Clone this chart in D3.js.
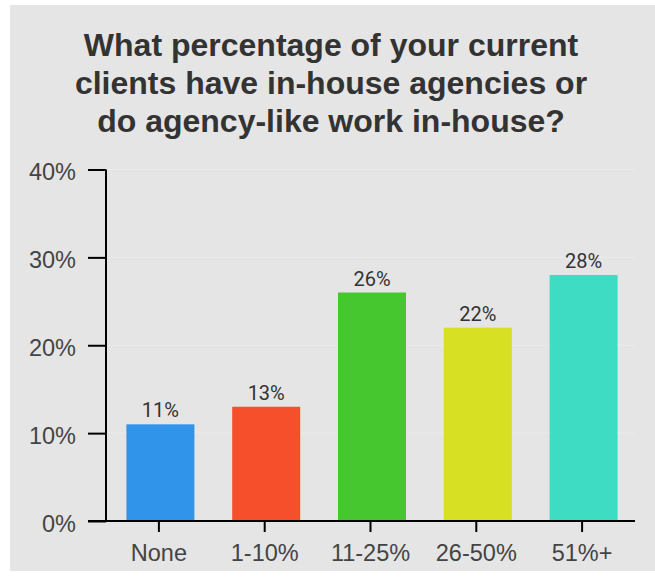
<!DOCTYPE html>
<html>
<head>
<meta charset="utf-8">
<script src="https://cdn.jsdelivr.net/npm/d3@7"></script>
<style>
  html, body { margin: 0; padding: 0; background: #ffffff; }
  svg { display: block; }
</style>
</head>
<body>
<svg id="chart" width="655" height="577"></svg>
<script>
// Survey answers: share of clients with in-house agencies
const categories = ["None", "1-10%", "11-25%", "26-50%", "51%+"];
const values = [11, 13, 26, 22, 28];
const barColors = ["#3094ea", "#f5502b", "#47c72f", "#d7e022", "#3ddcc3"];
const yTicks = [0, 10, 20, 30, 40];
const titleLines = [
  "What percentage of your current",
  "clients have in-house agencies or",
  "do agency-like work in-house?"
];

const svg = d3.select("#chart");

// panel background
svg.append("rect")
  .attr("x", 10).attr("y", 5)
  .attr("width", 645).attr("height", 566)
  .attr("fill", "#e5e5e5");

// title
svg.append("g")
  .selectAll("text")
  .data(titleLines)
  .join("text")
  .attr("x", 331)
  .attr("y", (d, i) => 56 + i * 38)
  .attr("text-anchor", "middle")
  .attr("font-family", "'Liberation Sans', Arial, sans-serif")
  .attr("font-weight", "bold")
  .attr("font-size", 32)
  .attr("fill", "#333333")
  .text(d => d);

const plotLeft = 106, plotRight = 635, plotTop = 169.5, plotBottom = 521;

const x = d3.scaleBand().domain(categories).range([plotLeft, plotRight]).padding(0);
const y = d3.scaleLinear().domain([0, 40]).range([plotBottom, plotTop]);

// faint horizontal grid
svg.append("g")
  .selectAll("line")
  .data(yTicks.slice(1))
  .join("line")
  .attr("x1", plotLeft).attr("x2", plotRight)
  .attr("y1", d => y(d)).attr("y2", d => y(d))
  .attr("stroke", "#ebebeb")
  .attr("stroke-width", 1);

// bars
const barW = 68;
svg.append("g")
  .selectAll("rect")
  .data(values)
  .join("rect")
  .attr("x", (d, i) => x(categories[i]) + x.bandwidth() / 2 - barW / 2 + 1.5)
  .attr("y", d => y(d))
  .attr("width", barW)
  .attr("height", d => y(0) - y(d))
  .attr("fill", (d, i) => barColors[i]);

// value labels
svg.append("g")
  .selectAll("text")
  .data(values)
  .join("text")
  .attr("x", (d, i) => x(categories[i]) + x.bandwidth() / 2 + 1.5)
  .attr("y", d => y(d) - 7)
  .attr("text-anchor", "middle")
  .attr("font-family", "Roboto, sans-serif")
  .attr("font-size", 20)
  .attr("fill", "#333333")
  .text(d => d + "%");

// y axis
const yAxis = svg.append("g")
  .attr("transform", `translate(${plotLeft},0)`)
  .call(d3.axisLeft(y).tickValues(yTicks).tickSize(18).tickPadding(12).tickFormat(d => d + "%"));
yAxis.select(".domain").attr("d", `M0,${plotTop}V${plotBottom}`).attr("stroke", "#000").attr("stroke-width", 2);
yAxis.selectAll(".tick line").attr("stroke", "#000").attr("stroke-width", 2);
yAxis.selectAll(".tick text")
  .attr("dy", "0.43em")
  .attr("font-family", "'Liberation Sans', Arial, sans-serif")
  .attr("font-size", 23.5)
  .attr("fill", "#444444");

// x axis
const xAxis = svg.append("g")
  .attr("transform", `translate(0,${plotBottom})`)
  .call(d3.axisBottom(x).tickSize(11).tickPadding(12));
xAxis.select(".domain").attr("d", `M88,0H${plotRight}`).attr("stroke", "#000").attr("stroke-width", 2);
xAxis.selectAll(".tick line").attr("stroke", "#000").attr("stroke-width", 2);
xAxis.selectAll(".tick text")
  .attr("font-family", "'Liberation Sans', Arial, sans-serif")
  .attr("font-size", 23.5)
  .attr("fill", "#444444");
</script>
</body>
</html>
